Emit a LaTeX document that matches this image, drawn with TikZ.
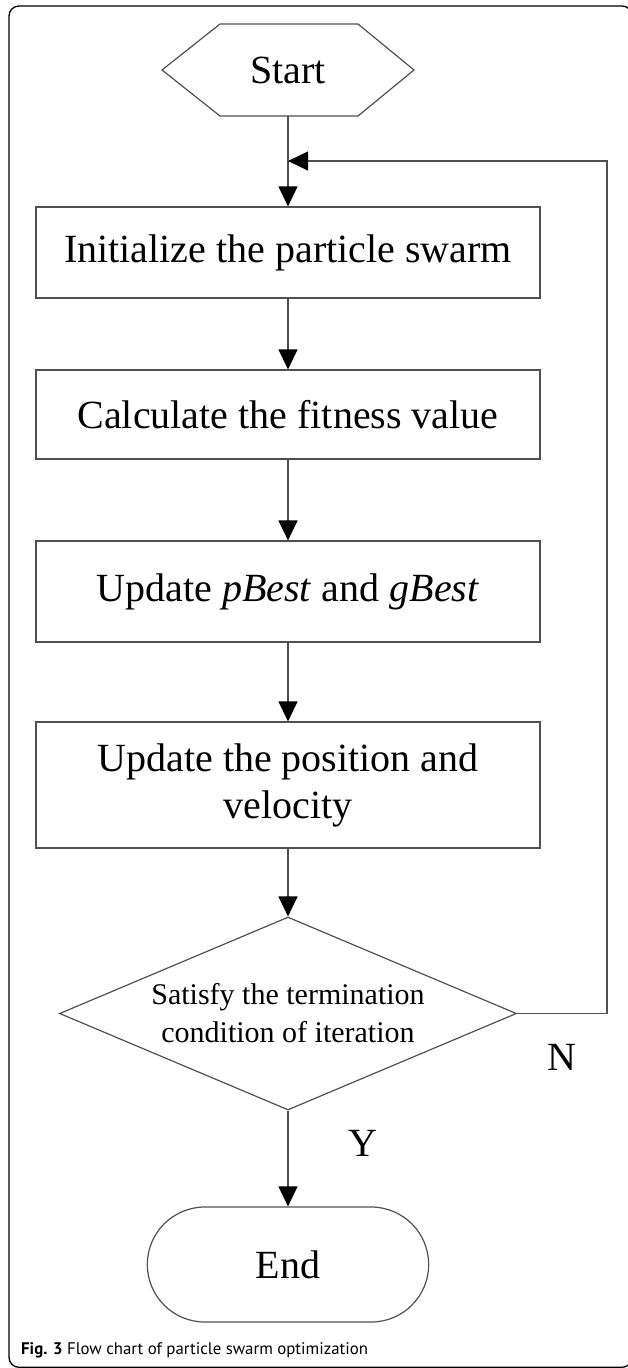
\documentclass[tikz,border=0pt]{standalone}
\usepackage{fontspec}
\setmainfont{Liberation Serif}
\newfontfamily\capfont{PT Sans}
\usepackage{tikz}
\usetikzlibrary{arrows.meta}
\usetikzlibrary{shapes}

\begin{document}
\begin{tikzpicture}[x=1pt,y=1pt,yscale=-1,xscale=1,
  line/.style={draw={rgb,255:red,80;green,80;blue,80},line width=1.2pt},
  flow/.style={line,-{Triangle[length=20pt,width=19pt,color=black]}},
  bigfont/.style={font=\fontsize{40}{47}\selectfont},
  procbox/.style={line,rectangle,bigfont,minimum width=504pt,align=center,inner sep=0pt}]
\useasboundingbox (0,0) rectangle (627,1368);

%Shape: Frame
\draw [line width=1.3pt,rounded corners=10pt] (9,6) rectangle (632,1367.3) ;

%Shape: Start hexagon
\draw [line]  (162,70) -- (220,24) -- (358,24) -- (414,70) -- (358,116) -- (220,116) -- cycle ;
% Text Node
\node [bigfont] (start) at (288,70) {Start};
\coordinate (startb) at (288,116);
\coordinate (join) at (288,161);
\coordinate (ret) at (607,161);

%Shape: Process boxes
\node [procbox,minimum height=91pt] (init) at (288,252.5) {Initialize the particle swarm};
\node [procbox,minimum height=89pt] (fit) at (288,414.5) {Calculate the fitness value};
\node [procbox,minimum height=101pt] (best) at (288,591.5) {Update \textit{pBest} and \textit{gBest}};
\node [procbox,minimum height=126pt] (move) at (288,785) {Update the position and\\velocity};

%Shape: Decision
\node [line,diamond,aspect=2.37,minimum width=457pt,minimum height=193pt,inner sep=0pt,
  align=center,font=\fontsize{30}{38}\selectfont] (stop) at (288,1013.5) {Satisfy the termination\\condition of iteration};

%Shape: Terminal
\node [line,rounded rectangle,bigfont,minimum width=288pt,minimum height=115pt] (end) at (288,1264.5) {End};

%Straight Lines
\draw [flow] (startb) -- (init.north) ;
\draw [flow] (init) -- (fit) ;
\draw [flow] (fit) -- (best) ;
\draw [flow] (best) -- (move) ;
\draw [flow] (move) -- (stop.north) ;
\draw [flow] (stop.south) -- (end.north) ;
\draw [flow] (stop.east) -| (ret) -- (join) ;

% Text Node
\node [bigfont] (no) at (562,1057) {N};
% Text Node
\node [bigfont] (yes) at (363,1143) {Y};
% Text Node
\node [anchor=west,inner sep=0pt,font=\capfont\fontsize{16.8}{20}\selectfont] (caption) at (21,1350)
  {\textbf{Fig. 3} Flow chart of particle swarm optimization};

\end{tikzpicture}
\end{document}
